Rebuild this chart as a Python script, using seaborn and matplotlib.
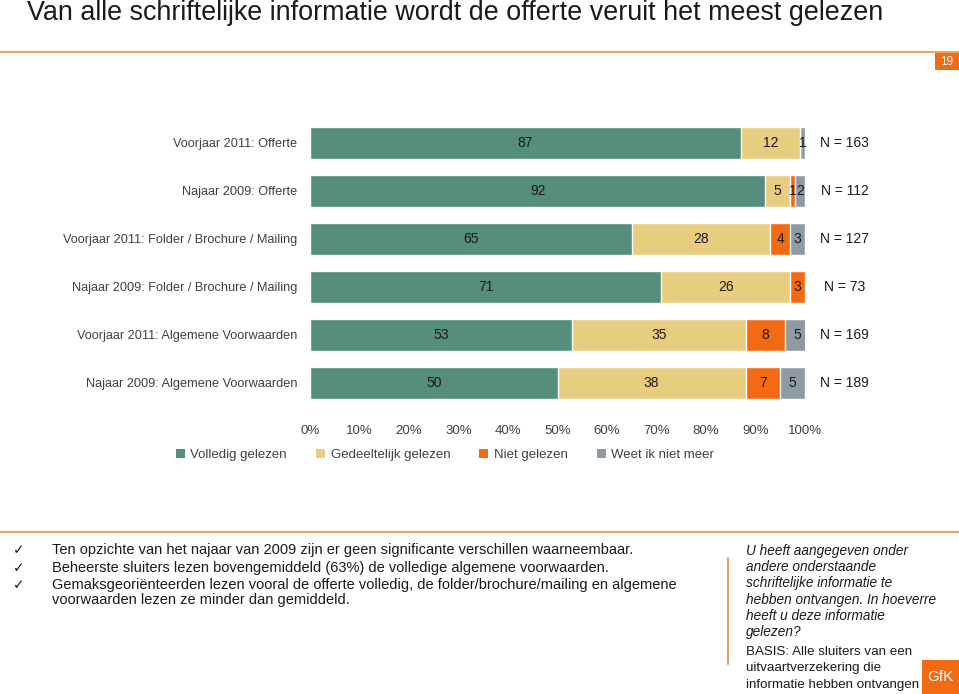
import matplotlib.pyplot as plt
import seaborn as sns
import numpy as np
from matplotlib.patches import Patch, Rectangle
from matplotlib.lines import Line2D

categories = [
    "Voorjaar 2011: Offerte",
    "Najaar 2009: Offerte",
    "Voorjaar 2011: Folder / Brochure / Mailing",
    "Najaar 2009: Folder / Brochure / Mailing",
    "Voorjaar 2011: Algemene Voorwaarden",
    "Najaar 2009: Algemene Voorwaarden",
]
series_names = ["Volledig gelezen", "Gedeeltelijk gelezen", "Niet gelezen", "Weet ik niet meer"]
volledig = [87, 92, 65, 71, 53, 50]
gedeeltelijk = [12, 5, 28, 26, 35, 38]
niet = [0, 1, 4, 3, 8, 7]
weet_niet = [1, 2, 3, 0, 5, 5]
n_labels = ["N = 163", "N = 112", "N = 127", "N = 73", "N = 169", "N = 189"]
x_ticks = [0, 10, 20, 30, 40, 50, 60, 70, 80, 90, 100]

bullet_lines = [
    "Ten opzichte van het najaar van 2009 zijn er geen significante verschillen waarneembaar.",
    "Beheerste sluiters lezen bovengemiddeld (63%) de volledige algemene voorwaarden.",
    "Gemaksgeoriënteerden lezen vooral de offerte volledig, de folder/brochure/mailing en algemene",
    "voorwaarden lezen ze minder dan gemiddeld.",
]
question_lines = [
    "U heeft aangegeven onder",
    "andere onderstaande",
    "schriftelijke informatie te",
    "hebben ontvangen. In hoeverre",
    "heeft u deze informatie",
    "gelezen?",
]
basis_lines = [
    "BASIS: Alle sluiters van een",
    "uitvaartverzekering die",
    "informatie hebben ontvangen",
]

colors = ["#558e7c", "#e8cd80", "#f26b13", "#8f9ba3"]
orange_line = "#eea35c"
text_col = "#404040"
dark = "#1a1a1a"

sns.set_theme(style="white")
plt.rcParams["font.family"] = ["Liberation Sans", "DejaVu Sans"]

fig = plt.figure(figsize=(9.59, 6.94), dpi=100)
ax = fig.add_axes([310 / 959, 1 - 407 / 694, 495 / 959, 288 / 694])

values = np.array([volledig, gedeeltelijk, niet, weet_niet], dtype=float)
cum = np.cumsum(values, axis=0)

# stacked bars: draw cumulative totals from back to front
for j in range(len(series_names) - 1, -1, -1):
    sns.barplot(x=cum[j], y=categories, color=colors[j], orient="h",
                width=0.66, saturation=1, errorbar=None, ax=ax)

# segment labels
for j in range(len(series_names)):
    for i in range(len(categories)):
        v = values[j, i]
        if v > 0:
            ax.text(cum[j, i] - v / 2, i, f"{int(v)}", ha="center", va="center",
                    fontsize=10, color=dark)

for i, lab in enumerate(n_labels):
    ax.text(108, i, lab, ha="center", va="center", fontsize=10,
            color=dark, clip_on=False)

ax.set_xlim(0, 100)
ax.set_ylim(5.5, -0.5)
ax.set_xticks(x_ticks)
ax.set_xticklabels([f"{t}%" for t in x_ticks])
ax.tick_params(axis="x", length=0, labelsize=9.5, labelcolor=text_col, pad=13)
ax.tick_params(axis="y", length=0, labelsize=9.2, labelcolor=text_col, pad=9)
ax.set_xlabel("")
ax.set_ylabel("")
sns.despine(ax=ax, left=True, bottom=True)

handles = [Patch(facecolor=c, edgecolor="none") for c in colors]
fig.legend(handles, series_names, loc="center", bbox_to_anchor=(445 / 959, 1 - 455 / 694),
           ncol=4, frameon=False, fontsize=9.5, handlelength=0.7, handleheight=0.7,
           handletextpad=0.4, columnspacing=2.2, labelcolor=text_col)

# title and decoration
fig.text(27 / 959, 1 - 13 / 694, "Van alle schriftelijke informatie wordt de offerte veruit het meest gelezen",
         fontsize=19.4, va="center", ha="left", color=dark)
fig.add_artist(Line2D([0, 1], [1 - 52 / 694] * 2, color=orange_line, lw=1.5))
fig.add_artist(Rectangle((935 / 959, 1 - 70 / 694), 24 / 959, 17 / 694, color="#f26b13", lw=0))
fig.text(947 / 959, 1 - 62 / 694, "19", color="white", fontsize=8.5, ha="center", va="center")

fig.add_artist(Line2D([0, 1], [1 - 532 / 694] * 2, color=orange_line, lw=1.5))

bullet_y = [550, 568, 585, 600]
for k, (y, t) in enumerate(zip(bullet_y, bullet_lines)):
    if k < 3:
        fig.text(13 / 959, 1 - y / 694, "\u2713", fontsize=10, ha="left", va="center",
                 color=dark, family=["DejaVu Sans"])
    fig.text(52 / 959, 1 - y / 694, t, fontsize=10.5, ha="left", va="center", color=dark)

fig.add_artist(Line2D([728 / 959] * 2, [1 - 558 / 694, 1 - 664 / 694], color=orange_line, lw=1.5))
for k, t in enumerate(question_lines):
    fig.text(746 / 959, 1 - (551 + 16.2 * k) / 694, t, fontsize=9.8, style="italic",
             ha="left", va="center", color=dark)
for k, t in enumerate(basis_lines):
    fig.text(746 / 959, 1 - (652 + 16.5 * k) / 694, t, fontsize=9.6,
             ha="left", va="center", color=dark)

fig.add_artist(Rectangle((922 / 959, 0), 37 / 959, 34 / 694, color="#f26b13", lw=0))
fig.text(940 / 959, 1 - 677 / 694, "GfK", color="white", fontsize=11, ha="center", va="center")

fig.savefig("out.png", dpi=100)
